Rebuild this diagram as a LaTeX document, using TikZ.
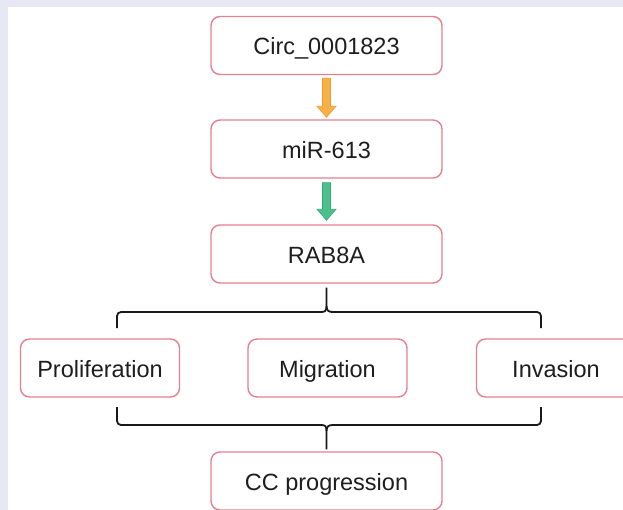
\documentclass[tikz,border=0pt]{standalone}
\usepackage{fontspec}
\setmainfont{Liberation Sans}
\usetikzlibrary{calc}
\definecolor{bgL}{RGB}{232,232,244}
\definecolor{boxline}{RGB}{229,128,146}
\definecolor{orangeA}{RGB}{250,176,72}
\definecolor{orangeD}{RGB}{236,156,52}
\definecolor{greenA}{RGB}{76,192,140}
\definecolor{greenD}{RGB}{52,170,118}
\definecolor{txt}{RGB}{30,30,30}
\tikzset{
  box/.style={draw=boxline, line width=1.4pt, rounded corners=9pt, fill=white,
    minimum width=231pt, minimum height=58pt, inner sep=0pt,
    text height=20pt, text depth=1pt,
    text=txt, font=\fontsize{23.5}{27}\selectfont},
  smallbox/.style={box, minimum width=159pt},
  bracket/.style={draw=black!90, line width=1.8pt, rounded corners=4pt},
}
\begin{document}
\begin{tikzpicture}[x=1pt,y=-1pt]
\useasboundingbox (0,0) rectangle (623,510);
\fill[bgL] (0,0) rectangle (623,510);
\clip (0,0) rectangle (623,510);
\fill[white] (8,7) rectangle (630,520);

\node[box] (c1) at (326.5,45.5) {Circ\_0001823};
\node[box] (c2) at (326.5,149) {miR-613};
\node[box] (c3) at (326.5,254) {RAB8A};
\node[smallbox] (p1) at (100,368) {Proliferation};
\node[smallbox] (p2) at (327.5,368) {Migration};
\node[smallbox] (p3) at (556,368) {Invasion};
\node[box] (cc) at (326.5,481) {CC progression};

% block arrows
\filldraw[fill=orangeA, draw=orangeD, line width=0.6pt]
  ($(c1.south)+(-4,3)$) -- ($(c1.south)+(4,3)$) -- ($(c2.north)+(4,-13)$)
  -- ($(c2.north)+(9.5,-13)$) -- ($(c2.north)+(0,-2)$) -- ($(c2.north)+(-9.5,-13)$)
  -- ($(c2.north)+(-4,-13)$) -- cycle;
\filldraw[fill=greenA, draw=greenD, line width=0.6pt]
  ($(c2.south)+(-4,4)$) -- ($(c2.south)+(4,4)$) -- ($(c3.north)+(4,-15)$)
  -- ($(c3.north)+(9.5,-15)$) -- ($(c3.north)+(0,-4)$) -- ($(c3.north)+(-9.5,-15)$)
  -- ($(c3.north)+(-4,-15)$) -- cycle;

% top bracket
\coordinate (tl) at (117,328);
\coordinate (tr) at (541,328);
\coordinate (tm) at ($(c3.south)+(0,4)$);
\draw[bracket] (tl) -- (117,312) -- (321,312);
\draw[bracket] (tr) -- (541,312) -- (333,312);
\draw[draw=black!90, line width=1.8pt]
  (321,312) .. controls (325,312) and (326.5,311) .. (326.5,306) -- (tm);
\draw[draw=black!90, line width=1.8pt]
  (333,312) .. controls (329,312) and (326.5,311) .. (326.5,306);

% bottom bracket
\coordinate (bl) at (117,407);
\coordinate (br) at (541,407);
\coordinate (bm) at ($(cc.north)+(0,-2)$);
\draw[bracket] (bl) -- (117,425) -- (321,425);
\draw[bracket] (br) -- (541,425) -- (333,425);
\draw[draw=black!90, line width=1.8pt]
  (321,425) .. controls (325,425) and (326.5,426) .. (326.5,431) -- (bm);
\draw[draw=black!90, line width=1.8pt]
  (333,425) .. controls (329,425) and (326.5,426) .. (326.5,431);
\end{tikzpicture}
\end{document}
